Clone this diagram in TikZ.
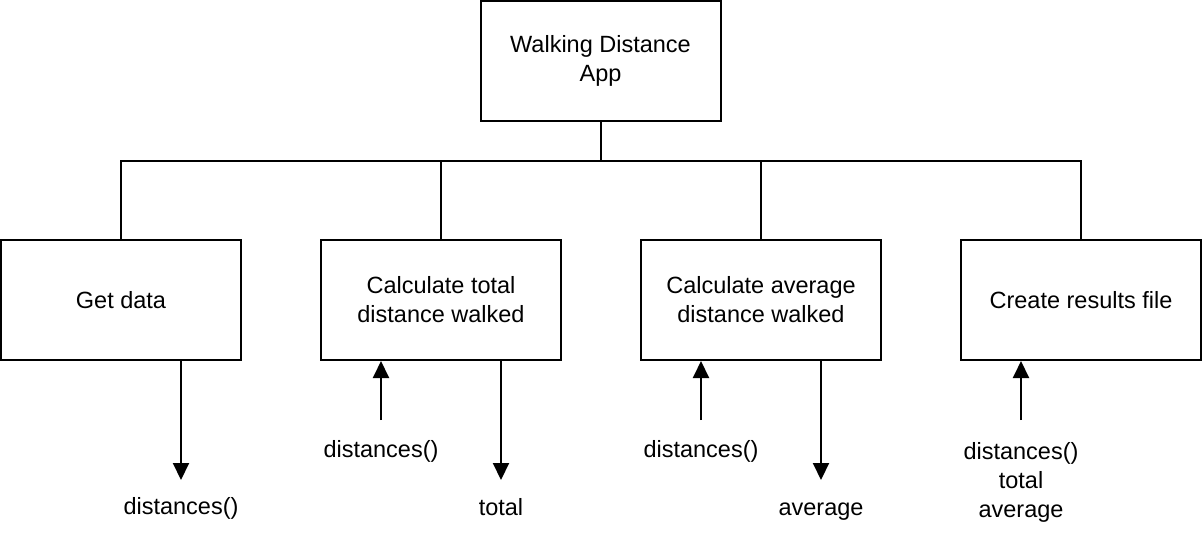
\documentclass[tikz,border=0pt]{standalone}
\usepackage{fontspec}
\setmainfont{Liberation Sans}
\usetikzlibrary{arrows.meta}
\begin{document}
\begin{tikzpicture}[x=1pt,y=-1pt,
  txt/.style={font=\fontsize{23.5}{29}\selectfont},
  box/.style={txt, draw, line width=2pt, minimum width=240pt, minimum height=120pt, align=center, inner sep=0pt},
  lbl/.style={txt, align=center, inner sep=0pt},
  link/.style={line width=2pt},
  flow/.style={line width=2pt, -{Triangle[width=16pt,length=17pt]}}]
\useasboundingbox (0,0) rectangle (1202,542);
% boxes
\node[box] (top) at (600.5,61) {Walking Distance\\App};
\node[box] (b1) at (121,300) {Get data};
\node[box] (b2) at (441,300) {Calculate total\\distance walked};
\node[box] (b3) at (761,300) {Calculate average\\distance walked};
\node[box] (b4) at (1081,300) {Create results file};
% tree connectors
\foreach \b in {b1,b2,b3,b4}
  \draw[link] (top.south) -- ++(0,39) -| (\b.north);
% labels
\node[lbl, anchor=base] (o1) at (181,514) {distances()};
\node[lbl, anchor=base] (i2) at (381,457) {distances()};
\node[lbl, anchor=base] (o2) at (501,515) {total};
\node[lbl, anchor=base] (i3) at (701,457) {distances()};
\node[lbl, anchor=base] (o3) at (821,515) {average};
\node[lbl] (i4) at (1021,482) {distances()\\total\\average};
% arrow ends
\coordinate (d1) at (181,480);
\coordinate (u2) at (381,420);
\coordinate (d2) at (501,480);
\coordinate (u3) at (701,420);
\coordinate (d3) at (821,480);
\coordinate (u4) at (1021,420);
% arrows
\draw[flow] (b1.south -| d1) -- (d1);
\draw[flow] (u2) -- (u2 |- b2.south);
\draw[flow] (b2.south -| d2) -- (d2);
\draw[flow] (u3) -- (u3 |- b3.south);
\draw[flow] (b3.south -| d3) -- (d3);
\draw[flow] (u4) -- (u4 |- b4.south);
\end{tikzpicture}
\end{document}
